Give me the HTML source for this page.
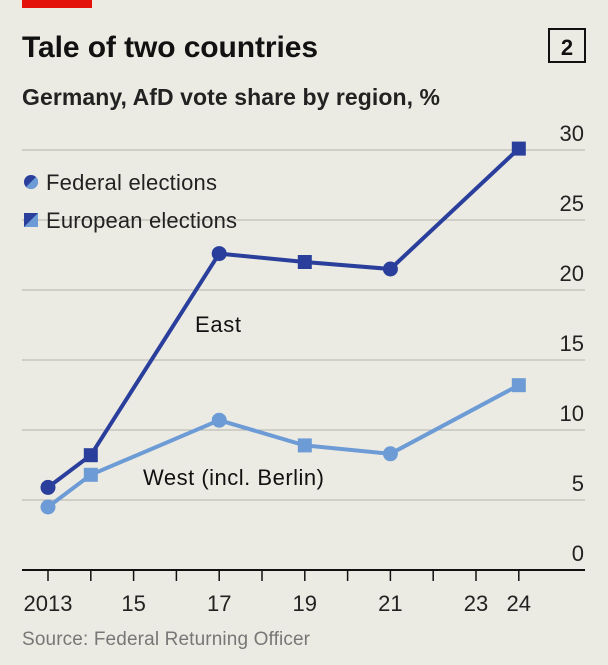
<!DOCTYPE html>
<html><head><meta charset="utf-8"><style>
body{margin:0;background:#ecebe3;}
svg{display:block;font-family:"Liberation Sans",sans-serif;}
</style></head><body>
<svg id="c" width="608" height="665">
<rect x="0" y="0" width="608" height="665" fill="#ecebe3"/>
<rect x="22" y="0" width="70" height="8" fill="#e3120b"/>
<text x="22" y="57" font-size="30" font-weight="bold" fill="#111" textLength="296">Tale of two countries</text>
<rect x="549" y="29" width="36" height="33" fill="none" stroke="#111" stroke-width="2"/>
<text x="567" y="55" font-size="22" font-weight="bold" text-anchor="middle" fill="#111">2</text>
<text x="22" y="105" font-size="23" font-weight="bold" fill="#222" textLength="418">Germany, AfD vote share by region, %</text>
<g id="grid"></g><g id="lines"></g>
<g>
<circle cx="31" cy="182" r="7" fill="#2a3e9c"/>
<path d="M36 177 A7 7 0 0 1 26 187 Z" fill="#6d9bd6"/>
<text x="46" y="190" font-size="22" fill="#222" textLength="171">Federal elections</text>
<rect x="24" y="213" width="14" height="14" fill="#2a3e9c"/>
<path d="M38 213 L38 227 L24 227 Z" fill="#6d9bd6"/>
<text x="46" y="228" font-size="22" fill="#222" textLength="191">European elections</text>
</g>
<text x="195" y="332" font-size="22" fill="#111" textLength="46">East</text>
<text x="143" y="485" font-size="22" fill="#111" textLength="181">West (incl. Berlin)</text>
<text x="22" y="645" font-size="19" fill="#777" textLength="288">Source: Federal Returning Officer</text>
</svg>
<script>
const years=[2013,2014,2017,2019,2021,2024];
const types=['federal','european','federal','european','federal','european'];
const east=[5.9,8.2,22.6,22.0,21.5,30.1];
const west=[4.5,6.8,10.7,8.9,8.3,13.2];
const yTicks=[0,5,10,15,20,25,30];
const xTickLabels=['2013','15','17','19','21','23','24'];
const xTickYears=[2013,2015,2017,2019,2021,2023,2024];
const NS='http://www.w3.org/2000/svg';
const x=v=>48+(v-2013)*42.8;
const y=v=>570-v*14;
function mk(t,a,p){const e=document.createElementNS(NS,t);for(const k in a)e.setAttribute(k,a[k]);p.appendChild(e);return e;}
const grid=document.getElementById('grid'),lines=document.getElementById('lines');
yTicks.forEach(t=>{
 if(t>0){const l=mk('line',{x1:22,x2:585,y1:y(t),y2:y(t),stroke:'#b3b3ab','stroke-width':1},grid);
 
 }
 const tx=mk('text',{x:584,y:y(t)-9,'font-size':22,'text-anchor':'end',fill:'#222'},grid);tx.textContent=t;
 
 
});
const ax=mk('line',{x1:22,x2:585,y1:570,y2:570,stroke:'#111','stroke-width':2},grid);


for(let yr=2013;yr<=2024;yr++){const tk=mk('line',{x1:x(yr),x2:x(yr),y1:570,y2:581,stroke:'#111','stroke-width':1.5},grid);
 
 }
xTickLabels.forEach((s,i)=>{const t=mk('text',{x:x(xTickYears[i]),y:611,'font-size':22,'text-anchor':'middle',fill:'#222'},grid);t.textContent=s;
 
 });
function series(vals,col,name){
 const pl=mk('polyline',{points:vals.map((v,i)=>x(years[i])+','+y(v)).join(' '),fill:'none',stroke:col,'stroke-width':4,'stroke-linejoin':'round'},lines);
 
 
 vals.forEach((v,i)=>{let m;
  if(types[i]==='federal')m=mk('circle',{cx:x(years[i]),cy:y(v),r:7.5,fill:col},lines);
  else m=mk('rect',{x:x(years[i])-7,y:y(v)-7,width:14,height:14,fill:col},lines);
  
  });
}
series(west,'#6d9bd6','west');
series(east,'#2a3e9c','east');
</script>
</body></html>
